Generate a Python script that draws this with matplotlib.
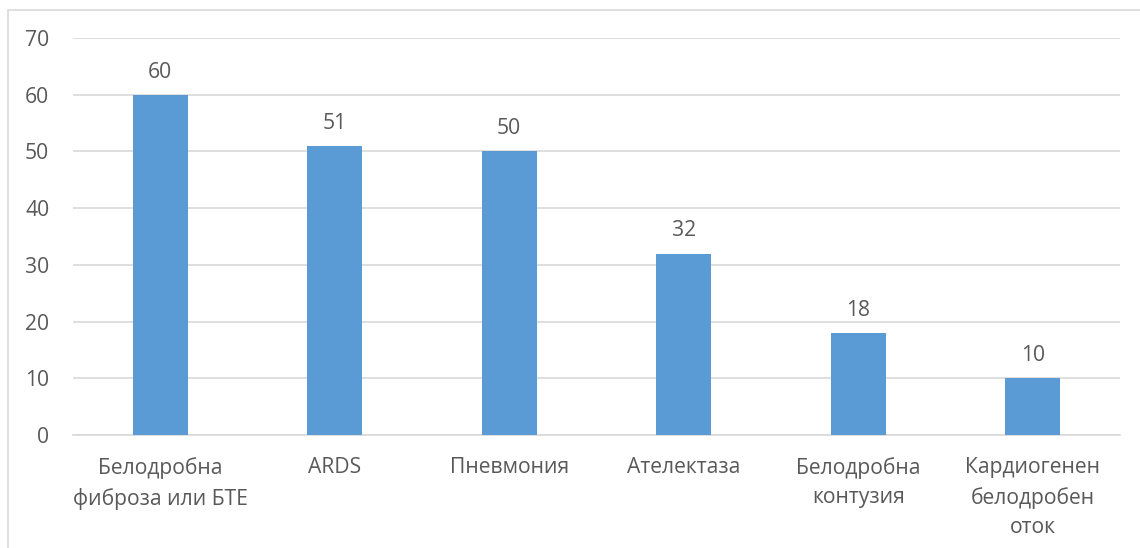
import matplotlib.pyplot as plt
from matplotlib.patches import Rectangle

categories = ['Белодробна\nфиброза или БТЕ', 'ARDS', 'Пневмония', 'Ателектаза',
              'Белодробна\nконтузия', 'Кардиогенен\nбелодробен\nоток']
values = [60, 51, 50, 32, 18, 10]
yticks = [0, 10, 20, 30, 40, 50, 60, 70]

text_color = '#595959'
grid_color = '#D9D9D9'
fs = 15.2
plt.rcParams['font.family'] = ['Open Sans', 'DejaVu Sans']

fig = plt.figure(figsize=(11.4, 5.48), dpi=100)
ax = fig.add_axes([0.064, 0.2062, 0.9185, 0.7245])

# chart-area frame
fig.patches.append(Rectangle((8 / 1140, -0.05), 1.2, 1 - 9.5 / 548 + 0.05,
                             transform=fig.transFigure, fill=False,
                             edgecolor=grid_color, linewidth=1.2))

x = range(len(categories))
bars = ax.bar(x, values, width=0.315, color='#5B9BD5', zorder=3)
for b, v in zip(bars, values):
    ax.text(b.get_x() + b.get_width() / 2, v + 4.0, str(v), ha='center',
            va='center', fontsize=fs, color=text_color)

ax.set_xlim(-0.5, len(categories) - 0.5)
ax.set_ylim(0, 70)
ax.set_yticks(yticks)
ax.yaxis.grid(True, color=grid_color, linewidth=1.2, zorder=0)
ax.set_xticks(list(x))
ax.set_xticklabels(categories, fontsize=fs, color=text_color, linespacing=1.5,
                   va='top')
ax.tick_params(axis='y', labelsize=fs, labelcolor=text_color, length=0, pad=17)
ax.tick_params(axis='x', length=0, pad=16)
for s in ['top', 'right', 'left']:
    ax.spines[s].set_visible(False)
ax.spines['bottom'].set_color(grid_color)
ax.spines['bottom'].set_linewidth(1.2)

fig.savefig('out.png', dpi=100)
